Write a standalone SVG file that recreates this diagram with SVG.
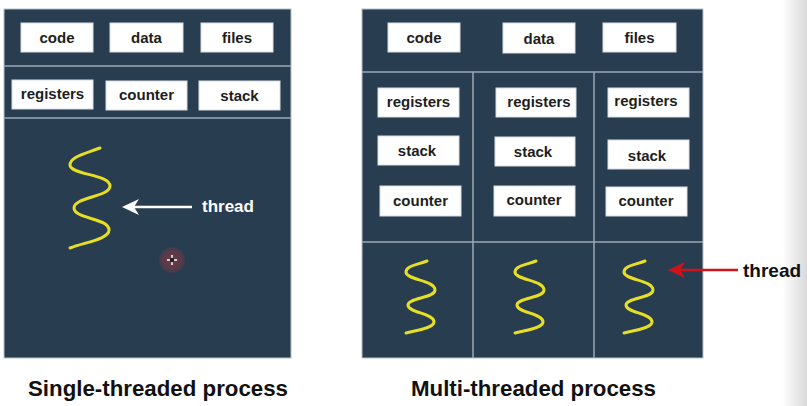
<svg xmlns="http://www.w3.org/2000/svg" width="807" height="406" viewBox="0 0 807 406">
<defs>
<style>
.panel{fill:#293d50;stroke:#b8c2cc;stroke-width:1}
.div{stroke:#9aa8b6;stroke-width:1.5;fill:none}
.box{fill:#ffffff;stroke:#d8dde2;stroke-width:1}
.lbl{font-family:"Liberation Sans",Arial,sans-serif;font-weight:bold;font-size:15px;fill:#1e1e1e;text-anchor:middle}
.thr{fill:none;stroke:#e6df24;stroke-width:3;stroke-linecap:round}
.title{font-family:"Liberation Sans",Arial,sans-serif;font-weight:bold;font-size:21.5px;fill:#111}
</style>
<linearGradient id="edge" x1="0" y1="0" x2="1" y2="0">
<stop offset="0" stop-color="#ffffff"/>
<stop offset="1" stop-color="#d9d9d9"/>
</linearGradient>
<radialGradient id="cur">
<stop offset="0" stop-color="#6a3c48"/>
<stop offset="0.7" stop-color="#5a3a47"/>
<stop offset="1" stop-color="#3b3d4f"/>
</radialGradient>
</defs>
<rect x="0" y="0" width="807" height="406" fill="#ffffff"/>
<rect x="782" y="0" width="25" height="406" fill="url(#edge)"/>

<!-- Single-threaded process -->
<g id="single">
<rect class="panel" x="4" y="9" width="287" height="349"/>
<line class="div" x1="4" y1="66" x2="291" y2="66"/>
<line class="div" x1="4" y1="118" x2="291" y2="118"/>
</g>
<g id="s-code"><rect class="box" x="21" y="23" width="72" height="29"/><text class="lbl" x="57" y="43">code</text></g>
<g id="s-data"><rect class="box" x="110" y="23" width="73" height="29"/><text class="lbl" x="146.5" y="43">data</text></g>
<g id="s-files"><rect class="box" x="201" y="23" width="72" height="29"/><text class="lbl" x="237" y="43">files</text></g>
<g id="s-registers"><rect class="box" x="12" y="80" width="81" height="29"/><text class="lbl" x="52.5" y="99">registers</text></g>
<g id="s-counter"><rect class="box" x="106" y="81" width="81" height="29"/><text class="lbl" x="146.5" y="100">counter</text></g>
<g id="s-stack"><rect class="box" x="199" y="81" width="81" height="29"/><text class="lbl" x="239.5" y="101">stack</text></g>
<g id="s-thread">
<path class="thr" d="M100,148 C84,154 70,157 70,165 C70,175 110,174 110,186 C110,197 74,197 74,208 C74,219 109,218 109,230 C109,239 86,242 70,248"/>
</g>
<g id="s-thread-label">
<text x="202" y="212" font-family="'Liberation Sans',Arial,sans-serif" font-weight="bold" font-size="17" fill="#ffffff">thread</text>
</g>
<g id="cursor">
<circle cx="172" cy="260" r="13" fill="url(#cur)"/>
<path d="M172,255 V265 M167,260 H177" stroke="#ffffff" stroke-width="1.5"/>
<circle cx="172" cy="260" r="2.2" fill="#222"/>
</g>

<!-- Multi-threaded process -->
<g id="multi">
<rect class="panel" x="362" y="9" width="341" height="349"/>
<line class="div" x1="362" y1="72" x2="703" y2="72"/>
<line class="div" x1="362" y1="242" x2="703" y2="242"/>
<line class="div" x1="473" y1="72" x2="473" y2="358"/>
<line class="div" x1="594" y1="72" x2="594" y2="358"/>
</g>
<g id="m-code"><rect class="box" x="388" y="23" width="72" height="29"/><text class="lbl" x="424" y="43">code</text></g>
<g id="m-data"><rect class="box" x="503" y="23" width="72" height="30"/><text class="lbl" x="539" y="44">data</text></g>
<g id="m-files"><rect class="box" x="603" y="23" width="73" height="29"/><text class="lbl" x="639.5" y="43">files</text></g>

<g id="m1-registers"><rect class="box" x="378" y="88" width="81" height="29"/><text class="lbl" x="418.5" y="107">registers</text></g>
<g id="m1-stack"><rect class="box" x="378" y="136" width="81" height="29"/><text class="lbl" x="417" y="156">stack</text></g>
<g id="m1-counter"><rect class="box" x="380" y="186" width="81" height="30"/><text class="lbl" x="420.5" y="206">counter</text></g>

<g id="m2-registers"><rect class="box" x="496" y="88" width="80" height="29"/><text class="lbl" x="539" y="107">registers</text></g>
<g id="m2-stack"><rect class="box" x="495" y="137" width="80" height="29"/><text class="lbl" x="533" y="157">stack</text></g>
<g id="m2-counter"><rect class="box" x="494" y="186" width="81" height="30"/><text class="lbl" x="534" y="205">counter</text></g>

<g id="m3-registers"><rect class="box" x="608" y="88" width="81" height="29"/><text class="lbl" x="646" y="106">registers</text></g>
<g id="m3-stack"><rect class="box" x="608" y="140" width="81" height="29"/><text class="lbl" x="647" y="161">stack</text></g>
<g id="m3-counter"><rect class="box" x="606" y="187" width="81" height="29"/><text class="lbl" x="646" y="206">counter</text></g>

<g id="m-threads">
<path id="sq" class="thr" d="M427,261 C416,265 406,266 406,272 C406,280 435,280 435,290 C435,298 408,298 408,305 C408,313 434,313 434,322 C434,328 418,330 406,333"/>
<use href="#sq" x="109" y="0"/>
<use href="#sq" x="218" y="0"/>
</g>
<g id="m-thread-label">
<text x="743" y="277" font-family="'Liberation Sans',Arial,sans-serif" font-weight="bold" font-size="19" fill="#111111">thread</text>
</g>

<g id="connectors">
<line x1="134" y1="207" x2="192" y2="207" stroke="#ffffff" stroke-width="2.5"/>
<path d="M122,207 L139,199 L134,207 L139,215 Z" fill="#ffffff"/>
<line x1="680" y1="270" x2="738" y2="270" stroke="#d0121b" stroke-width="2.5"/>
<path d="M668,270 L685,262 L680,270 L685,278 Z" fill="#d0121b"/>
</g>

<g id="titles">
<text class="title" x="28" y="396" textLength="260" lengthAdjust="spacingAndGlyphs">Single-threaded process</text>
<text class="title" x="411" y="396" textLength="245" lengthAdjust="spacingAndGlyphs">Multi-threaded process</text>
</g>
</svg>
